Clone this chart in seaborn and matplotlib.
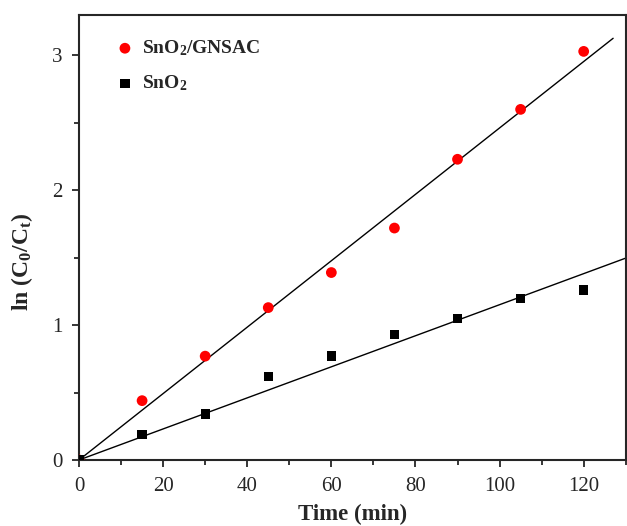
import numpy as np
import pandas as pd
import matplotlib
matplotlib.use("Agg")
import matplotlib.pyplot as plt
import seaborn as sns
from matplotlib.ticker import MultipleLocator

# data
time_min = [0, 15, 30, 45, 60, 75, 90, 105, 120]
ln_gnsac = [0.0, 0.44, 0.77, 1.13, 1.39, 1.72, 2.23, 2.60, 3.03]
ln_sno2 = [0.0, 0.19, 0.34, 0.62, 0.77, 0.93, 1.05, 1.20, 1.26]
series_names = ["SnO$_2$/GNSAC", "SnO$_2$"]

sns.set_style("ticks")
plt.rcParams["font.family"] = ["Liberation Serif", "DejaVu Serif"]
plt.rcParams["mathtext.fontset"] = "custom"
plt.rcParams["mathtext.rm"] = "Liberation Serif"
plt.rcParams["mathtext.bf"] = "Liberation Serif:bold"
plt.rcParams["mathtext.default"] = "bf"

df = pd.DataFrame({
    "t": time_min * 2,
    "ln": ln_gnsac + ln_sno2,
    "sample": [series_names[0]] * len(time_min) + [series_names[1]] * len(time_min),
})

fig = plt.figure(figsize=(6.27, 5.26), dpi=100)
ax = fig.add_axes([0.126, 0.1255, 0.872, 0.846])

# linear fits through the origin
fit_ends = [127, 130]
for (name, g), x_end in zip(df.groupby("sample", sort=False), fit_ends):
    x = g["t"].to_numpy()
    y = g["ln"].to_numpy()
    k = (x * y).sum() / (x * x).sum()
    xs = np.array([0, x_end])
    ax.plot(xs, k * xs, color="black", lw=1, zorder=2)

sns.scatterplot(data=df[df["sample"] == series_names[0]], x="t", y="ln",
                color="#ff0000", marker="o", s=60, edgecolor="none",
                label=series_names[0], ax=ax, zorder=3)
sns.scatterplot(data=df[df["sample"] == series_names[1]], x="t", y="ln",
                color="black", marker="s", s=45, edgecolor="none",
                label=series_names[1], ax=ax, zorder=3)

ax.set_xlim(0, 130)
ax.set_ylim(0, 3.3)
ax.xaxis.set_major_locator(MultipleLocator(20))
ax.xaxis.set_minor_locator(MultipleLocator(10))
ax.yaxis.set_major_locator(MultipleLocator(1))
ax.yaxis.set_minor_locator(MultipleLocator(0.5))
ax.tick_params(which="both", direction="out", width=1.3, labelsize=15,
               top=False, right=False, pad=7)
ax.tick_params(which="major", length=5)
ax.tick_params(which="minor", length=3.5)
for sp in ax.spines.values():
    sp.set_linewidth(1.5)

ax.set_xlabel("Time (min)", fontsize=16.5, fontweight="bold", labelpad=6)
ax.set_ylabel("ln (C$_0$/C$_t$)", fontsize=17, fontweight="bold")
ax.yaxis.set_label_coords(-0.08, 0.445)

ax.legend(loc="upper left", frameon=False, prop={"weight": "bold", "size": 14},
          handlelength=1.0, handletextpad=0.4, borderaxespad=0,
          labelspacing=0.8, bbox_to_anchor=(0.052, 0.965))

fig.savefig("out.png", dpi=100)
